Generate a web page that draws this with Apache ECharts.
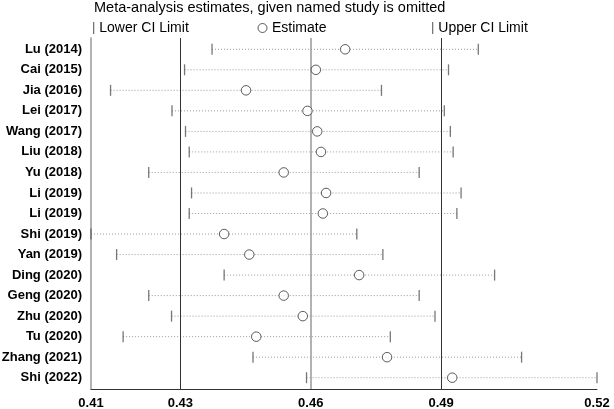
<!DOCTYPE html>
<html>
<head>
<meta charset="utf-8">
<script src="https://cdn.jsdelivr.net/npm/echarts@6/dist/echarts.min.js"></script>
<style>html,body{margin:0;padding:0;background:#fff}#c{width:614px;height:409px}</style>
</head>
<body>
<div id="c"></div>
<script>
const studies = ['Lu (2014)','Cai (2015)','Jia (2016)','Lei (2017)','Wang (2017)','Liu (2018)','Yu (2018)','Li (2019)','Li (2019)','Shi (2019)','Yan (2019)','Ding (2020)','Geng (2020)','Zhu (2020)','Tu (2020)','Zhang (2021)','Shi (2022)'];
const estimate = [0.4684,0.4621,0.4471,0.4603,0.4624,0.4632,0.4552,0.4643,0.4636,0.4424,0.4478,0.4714,0.4552,0.4593,0.4493,0.4774,0.4914];
const lower = [0.4398,0.4339,0.4180,0.4312,0.4341,0.4349,0.4262,0.4354,0.4349,0.4138,0.4193,0.4424,0.4262,0.4311,0.4207,0.4486,0.4601];
const upper = [0.4970,0.4906,0.4762,0.4897,0.4910,0.4916,0.4843,0.4933,0.4924,0.4709,0.4765,0.5005,0.4843,0.4877,0.4781,0.5063,0.5225];
const overallLower = 0.4330;
const overallEstimate = 0.4610;
const overallUpper = 0.4890;

const xMin = Math.min(...lower);
const xMax = Math.max(...upper);
const xTicks = [xMin, overallLower, overallEstimate, overallUpper, xMax];
const rows = studies.map((s, i) => i);

const font = 'Liberation Sans, Arial, Helvetica, sans-serif';
const chart = echarts.init(document.getElementById('c'), null, {renderer: 'canvas'});
chart.setOption({
  animation: false,
  backgroundColor: '#fff',
  title: {
    text: 'Meta-analysis estimates, given named study is omitted',
    left: 94, top: 0, padding: 0,
    textStyle: {fontFamily: font, fontSize: 14.5, fontWeight: 'normal', color: '#000'}
  },
  legend: [
    {data: [{name: 'Lower CI Limit', icon: 'rect'}], left: 93, top: 21, padding: 0, itemWidth: 1.3, itemHeight: 12,
     textStyle: {fontFamily: font, fontSize: 14, color: '#000'}, selectedMode: false},
    {data: [{name: 'Estimate', icon: 'circle', itemStyle: {color: '#fff', borderColor: '#333', borderWidth: 1}}], left: 257.5, top: 21, padding: 0, itemWidth: 9, itemHeight: 9,
     textStyle: {fontFamily: font, fontSize: 14, color: '#000'}, selectedMode: false},
    {data: [{name: 'Upper CI Limit', icon: 'rect'}], left: 432, top: 21, padding: 0, itemWidth: 1.3, itemHeight: 12,
     textStyle: {fontFamily: font, fontSize: 14, color: '#000'}, selectedMode: false}
  ],
  grid: {left: 91, right: 17, top: 38, bottom: 20, containLabel: false, outerBoundsMode: 'none'},
  xAxis: {
    type: 'value', min: xMin, max: xMax,
    axisLine: {show: true, onZero: false, lineStyle: {color: '#333', width: 1}},
    axisTick: {show: false},
    splitLine: {show: false},
    axisLabel: {
      customValues: xTicks, margin: 8,
      formatter: v => v.toFixed(2),
      fontFamily: font, fontSize: 13, fontWeight: 'bold', color: '#000'
    }
  },
  yAxis: {
    type: 'value', inverse: true, min: -0.55, max: 16.55,
    axisLine: {show: true, onZero: false, lineStyle: {color: '#999', width: 1.5}},
    axisTick: {show: false},
    splitLine: {show: false},
    axisLabel: {
      customValues: rows, margin: 9,
      formatter: v => studies[Math.round(v)] || '',
      fontFamily: font, fontSize: 13, fontWeight: 'bold', color: '#000'
    }
  },
  series: [
    {
      type: 'custom', name: 'CI', silent: true, z: 1,
      data: rows.map(i => [lower[i], upper[i], i]),
      encode: {x: [0, 1], y: 2},
      renderItem: function (params, api) {
        const p1 = api.coord([api.value(0), api.value(2)]);
        const p2 = api.coord([api.value(1), api.value(2)]);
        return {type: 'line', shape: {x1: p1[0], y1: p1[1], x2: p2[0], y2: p2[1]},
          style: {stroke: '#999', lineWidth: 1, lineDash: [1, 2]}};
      }
    },
    {
      type: 'scatter', name: 'Lower CI Limit', z: 3, silent: true,
      symbol: 'rect', symbolSize: [1.3, 11],
      itemStyle: {color: '#555'},
      data: rows.map(i => [lower[i], i])
    },
    {
      type: 'scatter', name: 'Upper CI Limit', z: 3, silent: true,
      symbol: 'rect', symbolSize: [1.3, 11],
      itemStyle: {color: '#555'},
      data: rows.map(i => [upper[i], i])
    },
    {
      type: 'scatter', name: 'Estimate', z: 4, silent: true,
      symbol: 'circle', symbolSize: 9.5,
      itemStyle: {color: '#fff', borderColor: '#333', borderWidth: 1},
      data: rows.map(i => [estimate[i], i]),
      markLine: {
        silent: true, symbol: 'none', label: {show: false}, z: 2, precision: 6,
        data: [
          {xAxis: overallLower, lineStyle: {color: '#333', width: 1, type: 'solid'}},
          {xAxis: overallEstimate, lineStyle: {color: '#999', width: 1.5, type: 'solid'}},
          {xAxis: overallUpper, lineStyle: {color: '#333', width: 1, type: 'solid'}}
        ]
      }
    }
  ]
});
</script>
</body>
</html>
